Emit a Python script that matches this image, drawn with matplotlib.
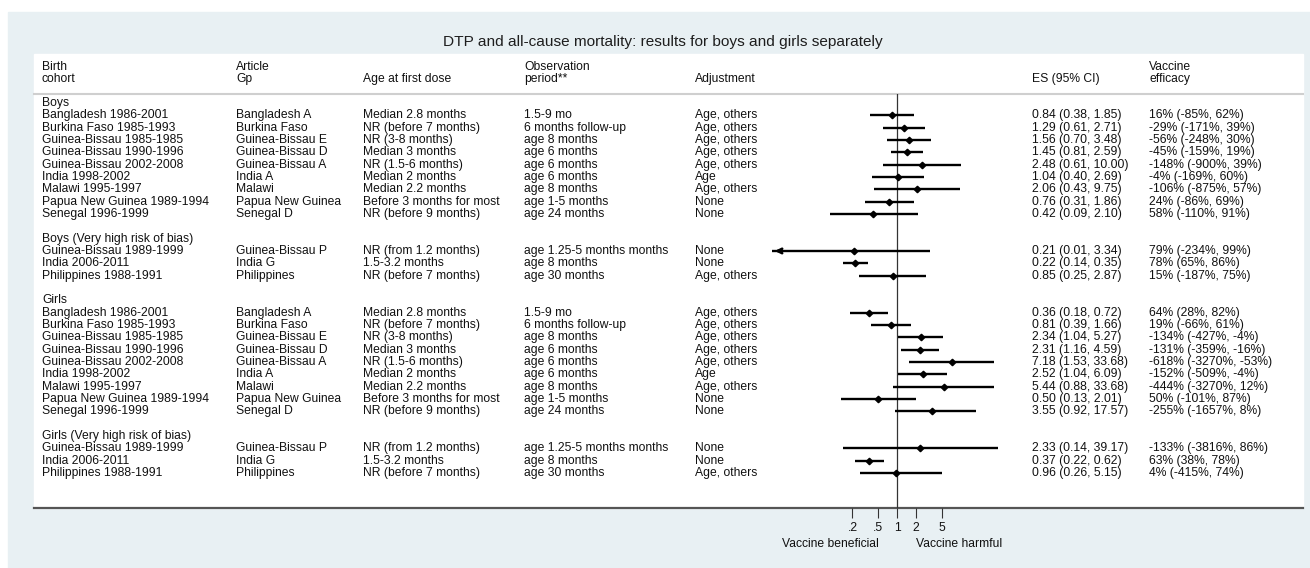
import numpy as np
import matplotlib
matplotlib.use("Agg")
import matplotlib.pyplot as plt
from matplotlib.patches import Rectangle

plt.rcParams["font.family"] = ["Liberation Sans", "DejaVu Sans"]

# ---- data ----
cohorts = ["Bangladesh 1986-2001", "Burkina Faso 1985-1993", "Guinea-Bissau 1985-1985",
           "Guinea-Bissau 1990-1996", "Guinea-Bissau 2002-2008", "India 1998-2002",
           "Malawi 1995-1997", "Papua New Guinea 1989-1994", "Senegal 1996-1999"]
articles = ["Bangladesh A", "Burkina Faso", "Guinea-Bissau E", "Guinea-Bissau D",
            "Guinea-Bissau A", "India A", "Malawi", "Papua New Guinea", "Senegal D"]
age_first = ["Median 2.8 months", "NR (before 7 months)", "NR (3-8 months)", "Median 3 months",
             "NR (1.5-6 months)", "Median 2 months", "Median 2.2 months",
             "Before 3 months for most", "NR (before 9 months)"]
observation = ["1.5-9 mo", "6 months follow-up", "age 8 months", "age 6 months", "age 6 months",
               "age 6 months", "age 8 months", "age 1-5 months", "age 24 months"]
adjustment = ["Age, others", "Age, others", "Age, others", "Age, others", "Age, others",
              "Age", "Age, others", "None", "None"]

vh_cohorts = ["Guinea-Bissau 1989-1999", "India 2006-2011", "Philippines 1988-1991"]
vh_articles = ["Guinea-Bissau P", "India G", "Philippines"]
vh_age_first = ["NR (from 1.2 months)", "1.5-3.2 months", "NR (before 7 months)"]
vh_observation = ["age 1.25-5 months months", "age 8 months", "age 30 months"]
vh_adjustment = ["None", "None", "Age, others"]

boys_es = [0.84, 1.29, 1.56, 1.45, 2.48, 1.04, 2.06, 0.76, 0.42]
boys_lo = [0.38, 0.61, 0.70, 0.81, 0.61, 0.40, 0.43, 0.31, 0.09]
boys_hi = [1.85, 2.71, 3.48, 2.59, 10.00, 2.69, 9.75, 1.86, 2.10]
boys_ve = ["16% (-85%, 62%)", "-29% (-171%, 39%)", "-56% (-248%, 30%)", "-45% (-159%, 19%)",
           "-148% (-900%, 39%)", "-4% (-169%, 60%)", "-106% (-875%, 57%)", "24% (-86%, 69%)",
           "58% (-110%, 91%)"]

boys_vh_es = [0.21, 0.22, 0.85]
boys_vh_lo = [0.01, 0.14, 0.25]
boys_vh_hi = [3.34, 0.35, 2.87]
boys_vh_ve = ["79% (-234%, 99%)", "78% (65%, 86%)", "15% (-187%, 75%)"]

girls_es = [0.36, 0.81, 2.34, 2.31, 7.18, 2.52, 5.44, 0.50, 3.55]
girls_lo = [0.18, 0.39, 1.04, 1.16, 1.53, 1.04, 0.88, 0.13, 0.92]
girls_hi = [0.72, 1.66, 5.27, 4.59, 33.68, 6.09, 33.68, 2.01, 17.57]
girls_ve = ["64% (28%, 82%)", "19% (-66%, 61%)", "-134% (-427%, -4%)", "-131% (-359%, -16%)",
            "-618% (-3270%, -53%)", "-152% (-509%, -4%)", "-444% (-3270%, 12%)",
            "50% (-101%, 87%)", "-255% (-1657%, 8%)"]

girls_vh_es = [2.33, 0.37, 0.96]
girls_vh_lo = [0.14, 0.22, 0.26]
girls_vh_hi = [39.17, 0.62, 5.15]
girls_vh_ve = ["-133% (-3816%, 86%)", "63% (38%, 78%)", "4% (-415%, 74%)"]

ticks = [0.2, 0.5, 1, 2, 5]
tick_labels = [".2", ".5", "1", "2", "5"]

# ---- layout (pixel units) ----
W, H = 1310, 568
BG = "#e8f0f3"
TXT = "#111111"
FS = 8.7
row0, dy = 103, 12.33
col_x = [42, 236, 363, 524, 695, 1032, 1149]
x_one, decade = 897, 63.7          # pixel of ES=1 and pixels per decade
fl, fr = 772, 1012                  # forest axes pixel extent
top_line, bot_line = 94, 508

fig = plt.figure(figsize=(W / 100, H / 100), dpi=100)
ax = fig.add_axes([0, 0, 1, 1])
ax.set_xlim(0, W)
ax.set_ylim(H, 0)
ax.axis("off")
ax.add_patch(Rectangle((8, 12), W - 8, H - 12, color=BG, zorder=0))
ax.add_patch(Rectangle((34, 54), 1303 - 34, bot_line - 54, color="white", zorder=1))
ax.plot([34, 1303], [top_line, top_line], color="#cfcfcf", lw=1.5, zorder=2)
ax.plot([34, 1303], [bot_line, bot_line], color="#555555", lw=1.6, zorder=2)

ax.text(663, 42, "DTP and all-cause mortality: results for boys and girls separately",
        ha="center", va="center", fontsize=11.1, color="#1e1e1e")

hdr1 = ["Birth", "Article", "", "Observation", "", "", "Vaccine"]
hdr2 = ["cohort", "Gp", "Age at first dose", "period**", "Adjustment", "ES (95% CI)", "efficacy"]
for x, a, b in zip(col_x, hdr1, hdr2):
    ax.text(x, 67, a, ha="left", va="center", fontsize=FS, color=TXT, zorder=3)
    ax.text(x, 79, b, ha="left", va="center", fontsize=FS, color=TXT, zorder=3)

# forest axes
lo_lim = 10 ** ((fl - x_one) / decade)
hi_lim = 10 ** ((fr - x_one) / decade)
fax = fig.add_axes([fl / W, (H - bot_line) / H, (fr - fl) / W, (bot_line - top_line) / H])
fax.set_xscale("log")
fax.set_xlim(lo_lim, hi_lim)
fax.set_ylim(bot_line, top_line)
fax.patch.set_alpha(0)
for s in fax.spines.values():
    s.set_visible(False)
fax.set_yticks([])
fax.set_xticks(ticks)
fax.set_xticklabels(tick_labels)
fax.minorticks_off()
fax.tick_params(axis="x", direction="out", length=7, width=0.8, color="#333333",
                labelsize=FS, labelcolor=TXT, pad=3)
fax.axvline(1, color="#333333", lw=0.9, zorder=1)

groups = [
    ("Boys", cohorts, articles, age_first, observation, adjustment,
     boys_es, boys_lo, boys_hi, boys_ve),
    ("Boys (Very high risk of bias)", vh_cohorts, vh_articles, vh_age_first, vh_observation,
     vh_adjustment, boys_vh_es, boys_vh_lo, boys_vh_hi, boys_vh_ve),
    ("Girls", cohorts, articles, age_first, observation, adjustment,
     girls_es, girls_lo, girls_hi, girls_ve),
    ("Girls (Very high risk of bias)", vh_cohorts, vh_articles, vh_age_first, vh_observation,
     vh_adjustment, girls_vh_es, girls_vh_lo, girls_vh_hi, girls_vh_ve),
]

r = 0
for title, coh, art, agef, obs, adj, es, lo, hi, ve in groups:
    ax.text(col_x[0], row0 + r * dy, title, ha="left", va="center", fontsize=FS, color=TXT, zorder=3)
    r += 1
    for i in range(len(es)):
        y = row0 + r * dy
        es_txt = f"{es[i]:.2f} ({lo[i]:.2f}, {hi[i]:.2f})"
        for x, t in zip(col_x, [coh[i], art[i], agef[i], obs[i], adj[i], es_txt, ve[i]]):
            ax.text(x, y, t, ha="left", va="center", fontsize=FS, color=TXT, zorder=3)
        left = max(lo[i], lo_lim)
        fax.plot([left, hi[i]], [y, y], color="black", lw=1.7, solid_capstyle="butt", zorder=3)
        if lo[i] < lo_lim:
            fax.annotate("", xy=(lo_lim, y), xytext=(lo_lim * 1.6, y),
                         arrowprops=dict(arrowstyle="->", color="black", lw=1.9,
                                         mutation_scale=8), zorder=3)
        fax.plot(es[i], y, marker="D", ms=3.3, color="black", zorder=4)
        r += 1
    r += 1

ax.text(830, 544, "Vaccine beneficial", ha="center", va="center", fontsize=FS, color=TXT)
ax.text(959, 544, "Vaccine harmful", ha="center", va="center", fontsize=FS, color=TXT)

fig.savefig("out.png", dpi=100)
